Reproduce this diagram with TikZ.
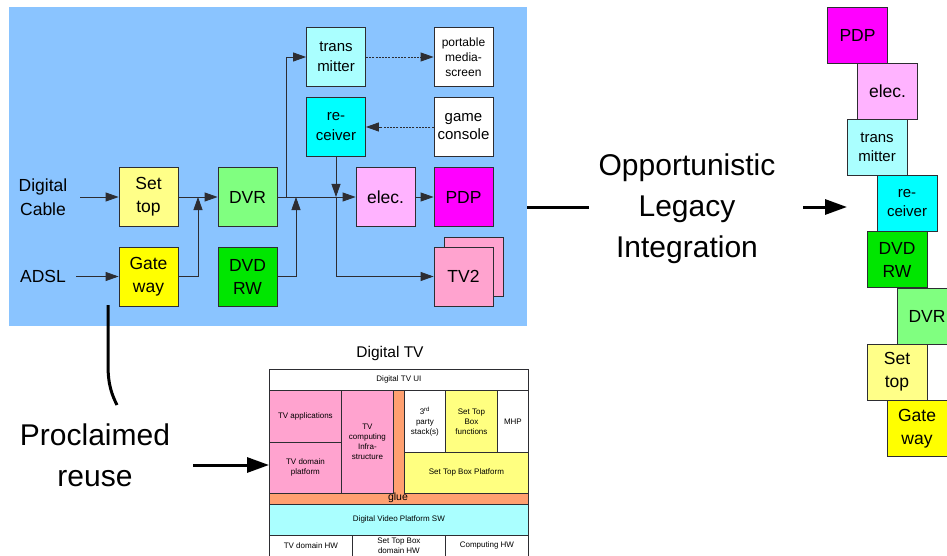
\documentclass[tikz,border=0pt]{standalone}
\usepackage{fontspec}
\setmainfont{Liberation Sans}
\usetikzlibrary{arrows.meta,calc}
\definecolor{bgblue}{RGB}{138,196,255}
\definecolor{cSettop}{RGB}{255,255,136}
\definecolor{cGate}{RGB}{255,255,0}
\definecolor{cDVR}{RGB}{128,255,128}
\definecolor{cDVD}{RGB}{0,230,0}
\definecolor{cTrans}{RGB}{170,255,255}
\definecolor{cRecv}{RGB}{0,255,255}
\definecolor{cElec}{RGB}{255,179,255}
\definecolor{cPDP}{RGB}{255,0,255}
\definecolor{cTV}{RGB}{255,163,207}
\definecolor{cGlue}{RGB}{255,160,112}
\definecolor{cStb}{RGB}{255,255,128}
\definecolor{cDvp}{RGB}{170,255,255}
\definecolor{lineg}{RGB}{45,45,50}
\begin{document}
\begin{tikzpicture}[x=1pt,y=-1pt,
  box/.style={draw=lineg, line width=0.8pt, minimum width=59pt, minimum height=59pt, inner sep=0pt, align=center, font=\fontsize{17.5}{23}\selectfont},
  midbox/.style={box, font=\fontsize{15}{20}\selectfont},
  smallbox/.style={box, font=\fontsize{12}{15}\selectfont},
  gbox/.style={draw=lineg, line width=0.8pt, minimum width=60pt, minimum height=56pt, inner sep=0pt, align=center, font=\fontsize{17.5}{23}\selectfont},
  gmid/.style={gbox, font=\fontsize{15}{19}\selectfont},
  lbl/.style={inner sep=0pt, align=center, font=\fontsize{17.5}{24}\selectfont},
  big/.style={inner sep=0pt, align=center, font=\fontsize{30}{41}\selectfont},
  blk/.style={draw=lineg, line width=0.8pt, anchor=north west, inner sep=0pt, align=center, font=\fontsize{8}{10}\selectfont},
  arr/.style={draw=lineg, line width=0.8pt, -{Triangle[length=13pt,width=9pt]}},
  ln/.style={draw=lineg, line width=0.8pt},
  dotarr/.style={arr, dash pattern=on 2pt off 1.2pt},
  thickln/.style={draw=black, line width=3pt},
  thickarr/.style={thickln, -{Triangle[length=22pt,width=15pt]}}
]
\useasboundingbox (0,0) rectangle (947,556);
\fill[white] (0,0) rectangle (947,556);

% blue background
\node[fill=bgblue, minimum width=518pt, minimum height=319pt, inner sep=0pt, anchor=north west] (bg) at (9,7) {};

% left labels
\node[lbl] (dc) at (43,197) {Digital\\Cable};
\node[lbl] (adsl) at (43,276.5) {ADSL};

% boxes
\node[box, fill=cSettop] (settop) at (148.5,197) {Set\\top};
\node[box, fill=cGate] (gateway) at (148.5,276.5) {Gate\\way};
\node[box, fill=cDVR] (dvr) at (247.5,197) {DVR};
\node[box, fill=cDVD] (dvdrw) at (247.5,276.5) {DVD\\RW};
\node[midbox, fill=cTrans] (trans) at (336,57) {trans\\mitter};
\node[midbox, fill=cRecv] (recv) at (336,127) {re-\\ceiver};
\node[smallbox, fill=white] (portable) at (463.5,57) {portable\\media-\\screen};
\node[midbox, fill=white, font=\fontsize{15}{18}\selectfont] (game) at (463.5,127) {game\\console};
\node[box, fill=cElec] (elec) at (385.5,197) {elec.};
\node[box, fill=cPDP] (pdp) at (463.5,197) {PDP};
\node[box, fill=cTV] (tvback) at (473.5,267) {};
\node[box, fill=cTV] (tv2) at (463.5,276.5) {TV2};

% junctions
\coordinate (j1) at (198,197);
\coordinate (j2) at (296,197);
\coordinate (j3) at (286,197);
\coordinate (j4) at (336,197);

% connectors
\draw[arr] (dc.east) ++(12.7,0) -- (settop.west);
\draw[arr] (adsl.east) ++(10,0) -- (gateway.west);
\draw[arr] (settop.east) -- (dvr.west);
\draw[arr] (gateway.east) -| (j1);
\draw[arr] (dvr.east) -- (elec.west);
\draw[arr] (dvdrw.east) -| (j2);
\draw[arr] (j3) |- (trans.west);
\draw[arr] (recv.south) -- (j4);
\draw[arr] (j4) |- (tv2.west);
\draw[arr] (elec.east) -- (pdp.west);
\draw[dotarr] (trans.east) -- (portable.west);
\draw[dotarr] (game.west) -- (recv.east);

% Opportunistic legacy integration
\node[big] (opp) at (687,209) {Opportunistic\\Legacy\\Integration};
\coordinate (oppend) at (589,207);
\coordinate (oarrs) at (803,207);
\coordinate (oarre) at (847,207);
\draw[thickln] (bg.east |- oppend) -- (oppend);
\draw[thickarr] (oarrs) -- (oarre);

% right stack
\node[gbox, fill=cPDP] (rpdp) at (857.5,35) {PDP};
\node[gbox, fill=cElec] (relec) at (887.5,91) {elec.};
\node[gmid, fill=cTrans] (rtrans) at (877,147) {trans\\mitter};
\node[gmid, fill=cRecv] (rrecv) at (907,203) {re-\\ceiver};
\node[gbox, fill=cDVD] (rdvd) at (897,259.5) {DVD\\RW};
\node[gbox, fill=cDVR] (rdvr) at (927,316) {DVR};
\node[gbox, fill=cSettop] (rset) at (897,372) {Set\\top};
\node[gbox, fill=cGate] (rgate) at (917,428.5) {Gate\\way};

% Proclaimed reuse
\node[big] (pr) at (95,455) {Proclaimed\\reuse};
\coordinate (ps) at (108,305);
\coordinate (pm) at (108,365);
\coordinate (pe) at (117,405);
\draw[thickln] (ps) -- (pm) .. controls (108,385) and (112,395) .. (pe);
\coordinate (pas) at (193,465);

% Digital TV
\node[inner sep=0pt, font=\fontsize{15.5}{18}\selectfont] (dtvt) at (390,353) {Digital TV};
\node[blk, fill=cGlue, minimum width=259pt, minimum height=114pt] (glue) at (269,390) {};
\node[inner sep=0pt, font=\fontsize{10.5}{12}\selectfont] (gluel) at (398,498) {glue};
\node[blk, fill=white, minimum width=259pt, minimum height=21pt] (ui) at (269,369) {Digital TV UI};
\node[blk, fill=cTV, minimum width=72pt, minimum height=52pt] (tvapp) at (269,390) {TV applications};
\node[blk, fill=cTV, minimum width=72pt, minimum height=51pt] (tvdom) at (269,442) {TV domain\\platform};
\node[blk, fill=cTV, minimum width=52pt, minimum height=103pt] (tvcomp) at (341,390) {TV\\computing\\Infra-\\structure};
\node[blk, fill=white, minimum width=41pt, minimum height=62pt] (third) at (404,390) {3\textsuperscript{rd}\\party\\stack(s)};
\node[blk, fill=cStb, minimum width=52pt, minimum height=62pt] (stbf) at (445,390) {Set Top\\Box\\functions};
\node[blk, fill=white, minimum width=31pt, minimum height=62pt] (mhp) at (497,390) {MHP};
\node[blk, fill=cStb, minimum width=124pt, minimum height=41pt] (stbp) at (404,452) {Set Top Box Platform};
\node[blk, fill=cDvp, minimum width=259pt, minimum height=31pt] (dvp) at (269,504) {Digital Video Platform SW};
\node[blk, fill=white, minimum width=83pt, minimum height=21pt] (tvhw) at (269,535) {TV domain HW};
\node[blk, fill=white, minimum width=93pt, minimum height=21pt] (stbhw) at (352,535) {Set Top Box\\domain HW};
\node[blk, fill=white, minimum width=83pt, minimum height=21pt] (comphw) at (445,535) {Computing HW};

\draw[thickarr] (pas) -- (pas -| tvdom.west);
\end{tikzpicture}
\end{document}
